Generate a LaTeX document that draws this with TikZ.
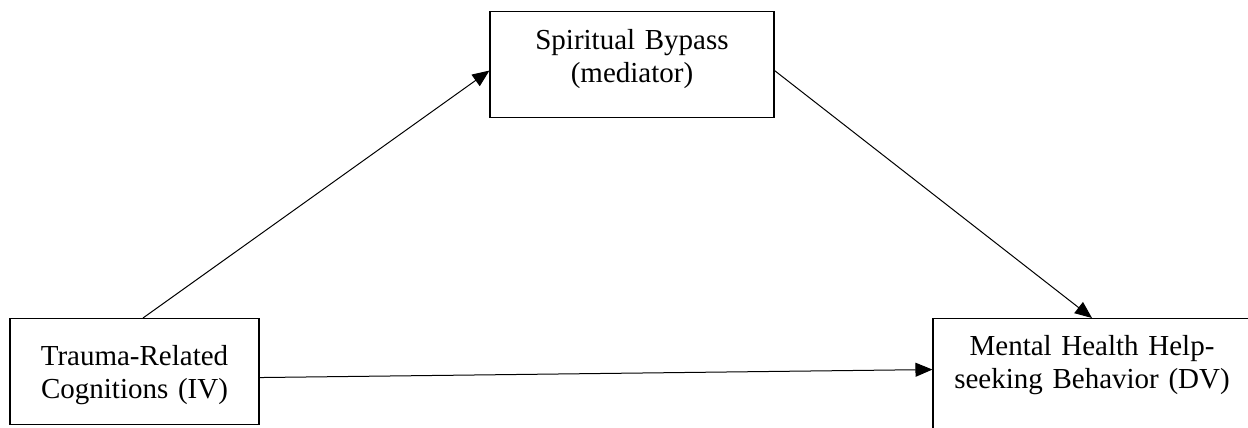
\documentclass[tikz,border=0pt]{standalone}
\usepackage{fontspec}
\setmainfont{Liberation Serif}
\usetikzlibrary{arrows.meta}
\tikzset{
  boxnode/.style={draw=black, line width=1.1pt, rectangle, inner sep=0pt, align=center,
    font=\fontsize{29}{33}\selectfont, anchor=north},
  conn/.style={draw=black, line width=1pt, -{Triangle[length=17pt,width=14pt]}}
}
\begin{document}
\begin{tikzpicture}[x=1pt,y=-1pt]
\useasboundingbox (0,0) rectangle (1248,428);
\node[boxnode, text width=284pt, text height=38pt, text depth=68pt] (sb) at (632,11) {Spiritual Bypass\\(mediator)};
\node[boxnode, text width=249pt, text height=47pt, text depth=59pt] (tr) at (134.5,318) {Trauma-Related\\Cognitions (IV)};
\node[boxnode, text width=318pt, text height=37pt, text depth=85pt] (mh) at (1092,318) {Mental Health Help-\\seeking Behavior (DV)};
\draw[conn] ([xshift=8.5pt]tr.north) -- ([yshift=-6pt]sb.west);
\draw[conn] ([yshift=-6pt]sb.east) -- (mh.north);
\draw[conn] ([yshift=-6pt]tr.east) -- ([yshift=10pt]mh.west);
\end{tikzpicture}
\end{document}
